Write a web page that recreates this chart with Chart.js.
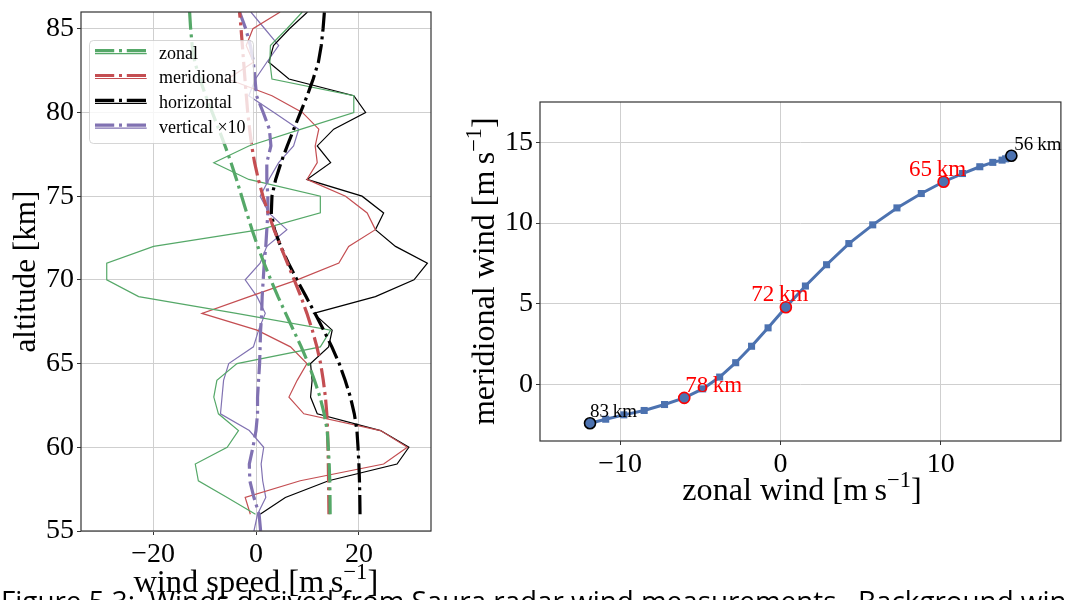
<!DOCTYPE html>
<html><head><meta charset="utf-8">
<script src="https://cdn.jsdelivr.net/npm/chart.js@4.4.1/dist/chart.umd.min.js"></script>
<style>
html,body{margin:0;padding:0;background:#fff;}
#wrap{position:relative;width:1068px;height:600px;overflow:hidden;background:#fff;}
canvas{position:absolute;left:0;top:0;}
</style></head><body>
<div id="wrap"><canvas id="left" width="1068" height="600"></canvas><canvas id="right" width="1068" height="600"></canvas></div>
<script>
// ---------- data ----------
const altitudes = [56,57,58,59,60,61,62,63,64,65,66,67,68,69,70,71,72,73,74,75,76,77,78,79,80,81,82,83,84,85,86];
const vertAltitudes = [55,56,57,58,59,60,61,62,63,64,65,66,67,68,69,70,71,72,73,74,75,76,77,78,79,80,81,82,83,84,85,86];

// measured profiles (thin lines)
const zonalMeas = [-0.1,-5.6,-11.2,-11.8,-5.6,-3.4,-7.3,-8.2,-7.6,-3.7,12.5,14.5,-3.8,-22.8,-29.0,-29.0,-19.9,0.8,12.5,12.5,-1.4,-8.2,-1.4,8.8,19.0,19.0,3.1,2.7,2.8,6.0,9.0];
const meridMeas = [-1.1,-2.1,8.6,24.8,29.4,24.2,9.3,6.4,8.0,9.9,6.7,0.2,-10.5,-1.3,8.0,16.1,18.0,23.2,21.6,17.4,9.9,11.9,11.5,12.2,9.0,3.1,-5.5,-0.5,-1.9,-0.6,4.7];
const horizMeas = [0.8,5.7,14.1,27.4,29.7,24.2,11.9,10.6,10.9,10.6,14.1,14.8,11.2,23.2,30.7,33.3,27.1,23.2,24.8,20.6,9.9,14.5,11.9,15.1,21.3,19.0,6.4,2.5,3.4,6.5,10.0];
const vertMeas  = [-0.4,0.3,1.9,1.3,1.0,1.5,-1.3,-6.9,-6.6,-6.3,-5.3,-0.5,0.5,1.8,0.2,-2.1,0.8,2.1,6.0,2.5,0.8,2.5,4.4,7.3,8.3,3.5,-1.4,-0.1,2.1,4.4,1.7,-1.0];

// background profiles (dash-dot lines)
const zonalBg = [14.41,14.38,14.33,14.22,14.05,13.83,13.25,12.44,11.36,10.18,8.79,7.27,5.76,4.27,2.88,1.56,0.34,-0.77,-1.80,-2.79,-3.79,-4.85,-6.00,-7.23,-8.50,-9.77,-10.90,-11.88,-12.4,-12.7,-12.9];
const meridBg = [14.17,14.14,14.10,14.05,13.98,13.90,13.76,13.49,13.07,12.56,11.83,10.94,9.89,8.73,7.42,6.10,4.79,3.51,2.37,1.35,0.46,-0.27,-0.83,-1.24,-1.61,-1.88,-2.15,-2.40,-2.65,-2.9,-3.2];
const horizBg = [20.21,20.17,20.10,19.99,19.82,19.61,19.10,18.35,17.32,16.17,14.74,13.14,11.45,9.72,7.96,6.30,4.80,3.59,2.98,3.10,3.82,4.86,6.06,7.34,8.65,9.95,11.11,12.12,12.68,13.03,13.29];
const vertBg  = [0.9,0.6,-0.4,-1.2,-1.3,-0.6,0.0,0.3,0.3,0.5,0.7,0.8,0.9,1.1,1.2,1.4,1.6,1.9,2.1,2.3,2.3,2.1,2.1,2.9,2.6,1.4,0.1,-0.2,-0.5,-1.1,-2.0,-3.2];

// hodograph
const hodoAltitudes = [56,57,58,59,60,61,62,63,64,65,66,67,68,69,70,71,72,73,74,75,76,77,78,79,80,81,82,83];
const markedAltitudes = [56,65,72,78,83];
const markedLabels = ['56\u2009km','65\u2009km','72\u2009km','78\u2009km','83\u2009km'];

// ticks
const leftXTicks = [-20,0,20];
const leftYTicks = [55,60,65,70,75,80,85];
const rightXTicks = [-10,0,10];
const rightYTicks = [0,5,10,15];
const legendNames = ['zonal','meridional','horizontal','vertical \u00d710'];

// ---------- styles ----------
const SERIF = "'Liberation Serif','DejaVu Serif',serif";
const SANS = "'Open Sans','DejaVu Sans',sans-serif";
const C = {zonal:'#55A868', merid:'#C44E52', horiz:'#000000', vert:'#8172B2', hodo:'#4C72B0'};
const DASHDOT = [19.2,4.8,3,4.8];
const markStyle = [
  {edge:'#000000', color:'#000000', size:19, align:'left', dx:3},
  {edge:'#ff0000', color:'#ff0000', size:23, align:'center', dx:-6},
  {edge:'#ff0000', color:'#ff0000', size:23, align:'center', dx:-6},
  {edge:'#ff0000', color:'#ff0000', size:23, align:'left', dx:1},
  {edge:'#000000', color:'#000000', size:19, align:'left', dx:0}
];
const TICKFONT = {family: SERIF, size: 28};

const fmt = v => (v < 0 ? '\u2212' + Math.abs(v) : String(v));
const pts = (xs, ys) => xs.map((v, i) => ({x: v, y: ys[i]}));
function lineDs(data, color, width, dash, order) {
  return {data, borderColor: color, backgroundColor: color, borderWidth: width, borderDash: dash || [],
    showLine: true, pointRadius: 0, pointHoverRadius: 0, fill: false, tension: 0, order};
}

// ---------- label helpers ----------
function labW(ctx, lab, size, fam) {
  ctx.font = size + 'px ' + fam;
  let w = ctx.measureText(lab.pre).width + ctx.measureText(lab.post).width;
  ctx.font = (size * 0.7) + 'px ' + fam;
  return w + ctx.measureText(lab.sup).width;
}
function drawLab(ctx, lab, size, fam, cx, base) {
  const w = labW(ctx, lab, size, fam);
  let x = cx - w / 2;
  ctx.textAlign = 'left'; ctx.textBaseline = 'alphabetic'; ctx.fillStyle = '#000';
  ctx.font = size + 'px ' + fam; ctx.fillText(lab.pre, x, base); x += ctx.measureText(lab.pre).width;
  ctx.font = (size * 0.7) + 'px ' + fam; ctx.fillText(lab.sup, x, base - size * 0.4); x += ctx.measureText(lab.sup).width;
  ctx.font = size + 'px ' + fam; ctx.fillText(lab.post, x, base);
}
function fitSize(ctx, lab, fam, target) { return 100 * target / labW(ctx, lab, 100, fam); }
function drawTitle(ctx, lab, target, cx, base, rotated) {
  const s = fitSize(ctx, lab, SERIF, target);
  ctx.save();
  if (rotated) { ctx.translate(base, cx); ctx.rotate(-Math.PI / 2); drawLab(ctx, lab, s, SERIF, 0, 0); }
  else drawLab(ctx, lab, s, SERIF, cx, base);
  ctx.restore();
}

const framePlugin = {
  id: 'frame',
  afterDraw(chart) {
    const a = chart.chartArea, ctx = chart.ctx;
    ctx.save(); ctx.strokeStyle = '#333'; ctx.lineWidth = 1.2;
    ctx.strokeRect(a.left, a.top, a.right - a.left, a.bottom - a.top);
    ctx.restore();
  }
};

function scaleOpts(min, max, ticks, fitKey, fitVal) {
  return {
    type: 'linear', min, max,
    afterBuildTicks: s => { s.ticks = ticks.map(v => ({value: v})); },
    afterFit: s => { s[fitKey] = fitVal; s.paddingTop = 0; s.paddingBottom = 0; s.paddingLeft = 0; s.paddingRight = 0; },
    ticks: {font: TICKFONT, color: '#000', padding: 3, callback: fmt, autoSkip: false, maxRotation: 0},
    grid: {color: '#cfcfcf', lineWidth: 1, tickColor: '#333', tickLength: 4, tickWidth: 1},
    border: {display: false}
  };
}

// ---------- left chart ----------
const legendPlugin = {
  id: 'profileLegend',
  afterDatasetsDraw(chart) {
    const ctx = chart.ctx;
    ctx.save();
    ctx.beginPath(); ctx.roundRect(89.5, 40.5, 164, 103, 4);
    ctx.fillStyle = 'rgba(255,255,255,0.8)'; ctx.fill();
    ctx.strokeStyle = 'rgba(204,204,204,0.8)'; ctx.lineWidth = 1; ctx.stroke();
    const cols = [C.zonal, C.merid, C.horiz, C.vert];
    legendNames.forEach((name, i) => {
      const y = 50.7 + 24.8 * i;
      ctx.strokeStyle = cols[i];
      ctx.lineWidth = 3.2; ctx.setLineDash(DASHDOT);
      ctx.beginPath(); ctx.moveTo(95, y); ctx.lineTo(146.7, y); ctx.stroke();
      ctx.lineWidth = 1.2; ctx.setLineDash([]);
      ctx.beginPath(); ctx.moveTo(95, y + 3); ctx.lineTo(146.7, y + 3); ctx.stroke();
      ctx.fillStyle = '#000'; ctx.font = '18px ' + SERIF; ctx.textAlign = 'left'; ctx.textBaseline = 'alphabetic';
      ctx.fillText(name, 159, y + 7.8);
    });
    ctx.restore();
  },
  afterDraw(chart) {
    const ctx = chart.ctx;
    drawTitle(ctx, {pre: 'altitude [km]', sup: '', post: ''}, 162, 271.5, 35, true);
    drawTitle(ctx, {pre: 'wind speed [m\u2009s', sup: '\u22121', post: ']'}, 245, 255.8, 592, false);
  }
};

new Chart(document.getElementById('left'), {
  type: 'scatter',
  data: {datasets: [
    lineDs(pts(zonalBg, altitudes), C.zonal, 3.2, DASHDOT, 0),
    lineDs(pts(meridBg, altitudes), C.merid, 3.2, DASHDOT, 0),
    lineDs(pts(horizBg, altitudes), C.horiz, 3.2, DASHDOT, 0),
    lineDs(pts(vertBg, vertAltitudes), C.vert, 3.2, DASHDOT, 0),
    lineDs(pts(zonalMeas, altitudes), C.zonal, 1.2, null, 1),
    lineDs(pts(meridMeas, altitudes), C.merid, 1.2, null, 1),
    lineDs(pts(horizMeas, altitudes), C.horiz, 1.2, null, 1),
    lineDs(pts(vertMeas, vertAltitudes), C.vert, 1.2, null, 1)
  ]},
  options: {
    responsive: false, animation: false, devicePixelRatio: 1,
    layout: {padding: {left: 0, top: 12, right: 637, bottom: 0}},
    plugins: {legend: {display: false}, tooltip: {enabled: false}},
    scales: {
      x: scaleOpts(-34, 34, leftXTicks, 'height', 69),
      y: scaleOpts(55, 86, leftYTicks, 'width', 81)
    }
  },
  plugins: [legendPlugin, framePlugin]
});

// ---------- right chart ----------
const idxOf = a => altitudes.indexOf(a);
const hodoPts = hodoAltitudes.map(a => ({x: zonalBg[idxOf(a)], y: meridBg[idxOf(a)]}));
const markPts = markedAltitudes.map(a => ({x: zonalBg[idxOf(a)], y: meridBg[idxOf(a)]}));

const hodoPlugin = {
  id: 'hodoLabels',
  afterDraw(chart) {
    const ctx = chart.ctx, xs = chart.scales.x, ys = chart.scales.y;
    ctx.save();
    markPts.forEach((p, i) => {
      const st = markStyle[i];
      const px = xs.getPixelForValue(p.x), py = ys.getPixelForValue(p.y);
      ctx.font = st.size + 'px ' + SERIF; ctx.fillStyle = st.color;
      ctx.textAlign = st.align; ctx.textBaseline = 'alphabetic';
      ctx.fillText(markedLabels[i], px + st.dx, py - 6);
    });
    ctx.restore();
    drawTitle(ctx, {pre: 'meridional wind [m\u2009s', sup: '\u22121', post: ']'}, 308, 271.2, 494, true);
    drawTitle(ctx, {pre: 'zonal wind [m\u2009s', sup: '\u22121', post: ']'}, 239.5, 802, 500, false);
    // caption (cut at the bottom of the page)
    const cap = 'Figure 5.3:  Winds derived from Saura radar wind measurements.  Background win';
    ctx.save();
    ctx.font = '100px ' + SANS;
    const s = 100 * 1066 / ctx.measureText(cap).width;
    ctx.font = s + 'px ' + SANS; ctx.fillStyle = '#000'; ctx.textAlign = 'left'; ctx.textBaseline = 'alphabetic';
    ctx.fillText(cap + 'd', 1, 591 + s * 0.72);
    ctx.restore();
  }
};

new Chart(document.getElementById('right'), {
  type: 'scatter',
  data: {datasets: [
    {data: markPts, showLine: false, pointStyle: 'circle', pointRadius: 5.5, pointHoverRadius: 5.5,
     pointBackgroundColor: C.hodo, pointBorderColor: markStyle.map(m => m.edge), pointBorderWidth: 1.6, order: 0},
    {data: hodoPts, showLine: true, borderColor: C.hodo, borderWidth: 3, tension: 0, fill: false,
     pointStyle: 'rect', pointRadius: 5, pointHoverRadius: 5, pointBackgroundColor: C.hodo, pointBorderWidth: 0, order: 1}
  ]},
  options: {
    responsive: false, animation: false, devicePixelRatio: 1,
    layout: {padding: {left: 440, top: 102, right: 3, bottom: 0}},
    plugins: {legend: {display: false}, tooltip: {enabled: false}},
    scales: {
      x: scaleOpts(-15, 17.5, rightXTicks, 'height', 159),
      y: scaleOpts(-3.5, 17.5, rightYTicks, 'width', 100)
    }
  },
  plugins: [hodoPlugin, framePlugin]
});
</script>
</body></html>
